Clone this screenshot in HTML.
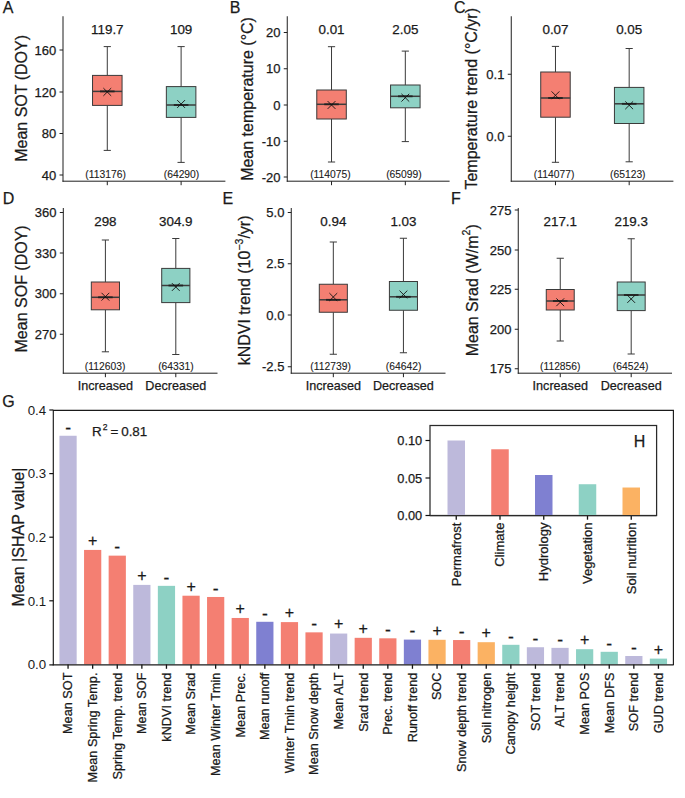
<!DOCTYPE html>
<html><head><meta charset="utf-8"><style>
html,body{margin:0;padding:0;background:#fff;}
svg{display:block;font-family:"Liberation Sans", sans-serif;}
text{stroke:#1a1a1a;stroke-width:0.25px;}
</style></head><body>
<svg width="685" height="798" viewBox="0 0 685 798">
<rect width="685" height="798" fill="#fff"/>
<line x1="63" y1="16.25" x2="63" y2="181.7" stroke="#1f1f1f" stroke-width="1.0"/>
<line x1="62.5" y1="181.2" x2="225.4" y2="181.2" stroke="#1f1f1f" stroke-width="1.0"/>
<line x1="59.5" y1="50" x2="63" y2="50" stroke="#1f1f1f" stroke-width="1.0"/>
<text x="56.2" y="54.6" font-size="13" text-anchor="end" fill="#1a1a1a">160</text>
<line x1="59.5" y1="92" x2="63" y2="92" stroke="#1f1f1f" stroke-width="1.0"/>
<text x="56.2" y="96.6" font-size="13" text-anchor="end" fill="#1a1a1a">120</text>
<line x1="59.5" y1="133.5" x2="63" y2="133.5" stroke="#1f1f1f" stroke-width="1.0"/>
<text x="56.2" y="138.1" font-size="13" text-anchor="end" fill="#1a1a1a">80</text>
<line x1="59.5" y1="175" x2="63" y2="175" stroke="#1f1f1f" stroke-width="1.0"/>
<text x="56.2" y="179.6" font-size="13" text-anchor="end" fill="#1a1a1a">40</text>
<line x1="107.29" y1="181.2" x2="107.29" y2="185.2" stroke="#1f1f1f" stroke-width="1.0"/>
<line x1="107.29" y1="46.6" x2="107.29" y2="75.4" stroke="#3a3a3a" stroke-width="1.0"/>
<line x1="107.29" y1="105.4" x2="107.29" y2="150.4" stroke="#3a3a3a" stroke-width="1.0"/>
<line x1="103.69" y1="46.6" x2="110.89" y2="46.6" stroke="#3a3a3a" stroke-width="1.0"/>
<line x1="103.69" y1="150.4" x2="110.89" y2="150.4" stroke="#3a3a3a" stroke-width="1.0"/>
<rect x="92.53" y="75.4" width="29.53" height="30.00" fill="#F47F72" stroke="#3a3a3a" stroke-width="1"/>
<line x1="92.53" y1="91.4" x2="122.05" y2="91.4" stroke="#3c3c3c" stroke-width="1.5"/>
<line x1="99.99" y1="91.4" x2="114.59" y2="91.4" stroke="#222" stroke-width="1.8"/>
<path d="M103.39,88.10L111.19,95.90M103.39,95.90L111.19,88.10" stroke="#111" stroke-width="0.9" fill="none"/>
<text x="107.29" y="33.9" font-size="13.4" text-anchor="middle" fill="#1a1a1a">119.7</text>
<text x="105.6" y="178" font-size="10.3" text-anchor="middle" fill="#1a1a1a" style="stroke-width:0.1px">(113176)</text>
<line x1="181.11" y1="181.2" x2="181.11" y2="185.2" stroke="#1f1f1f" stroke-width="1.0"/>
<line x1="181.11" y1="46.6" x2="181.11" y2="86.6" stroke="#3a3a3a" stroke-width="1.0"/>
<line x1="181.11" y1="117.4" x2="181.11" y2="162.4" stroke="#3a3a3a" stroke-width="1.0"/>
<line x1="177.51" y1="46.6" x2="184.71" y2="46.6" stroke="#3a3a3a" stroke-width="1.0"/>
<line x1="177.51" y1="162.4" x2="184.71" y2="162.4" stroke="#3a3a3a" stroke-width="1.0"/>
<rect x="166.35" y="86.6" width="29.53" height="30.80" fill="#8DD1C4" stroke="#3a3a3a" stroke-width="1"/>
<line x1="166.35" y1="105" x2="195.87" y2="105" stroke="#3c3c3c" stroke-width="1.5"/>
<line x1="173.81" y1="105" x2="188.41" y2="105" stroke="#222" stroke-width="1.8"/>
<path d="M177.21,100.10L185.01,107.90M177.21,107.90L185.01,100.10" stroke="#111" stroke-width="0.9" fill="none"/>
<text x="181.11" y="33.9" font-size="13.4" text-anchor="middle" fill="#1a1a1a">109</text>
<text x="181.5" y="178" font-size="10.3" text-anchor="middle" fill="#1a1a1a" style="stroke-width:0.1px">(64290)</text>
<text x="26.7" y="98.4" font-size="16" text-anchor="middle" fill="#1a1a1a" transform="rotate(-90 26.7 98.4)">Mean SOT (DOY)</text>
<text x="2.8" y="12.9" font-size="16" text-anchor="start" fill="#1a1a1a">A</text>
<line x1="287.25" y1="16.25" x2="287.25" y2="181.7" stroke="#1f1f1f" stroke-width="1.0"/>
<line x1="286.75" y1="181.2" x2="449.6" y2="181.2" stroke="#1f1f1f" stroke-width="1.0"/>
<line x1="283.75" y1="32.5" x2="287.25" y2="32.5" stroke="#1f1f1f" stroke-width="1.0"/>
<text x="280.45" y="37.1" font-size="13" text-anchor="end" fill="#1a1a1a">20</text>
<line x1="283.75" y1="68.75" x2="287.25" y2="68.75" stroke="#1f1f1f" stroke-width="1.0"/>
<text x="280.45" y="73.35" font-size="13" text-anchor="end" fill="#1a1a1a">10</text>
<line x1="283.75" y1="105" x2="287.25" y2="105" stroke="#1f1f1f" stroke-width="1.0"/>
<text x="280.45" y="109.6" font-size="13" text-anchor="end" fill="#1a1a1a">0</text>
<line x1="283.75" y1="141.25" x2="287.25" y2="141.25" stroke="#1f1f1f" stroke-width="1.0"/>
<text x="280.45" y="145.85" font-size="13" text-anchor="end" fill="#1a1a1a">-10</text>
<line x1="283.75" y1="177" x2="287.25" y2="177" stroke="#1f1f1f" stroke-width="1.0"/>
<text x="280.45" y="181.6" font-size="13" text-anchor="end" fill="#1a1a1a">-20</text>
<line x1="331.53" y1="181.2" x2="331.53" y2="185.2" stroke="#1f1f1f" stroke-width="1.0"/>
<line x1="331.53" y1="46.7" x2="331.53" y2="90" stroke="#3a3a3a" stroke-width="1.0"/>
<line x1="331.53" y1="119" x2="331.53" y2="162" stroke="#3a3a3a" stroke-width="1.0"/>
<line x1="327.93" y1="46.7" x2="335.13" y2="46.7" stroke="#3a3a3a" stroke-width="1.0"/>
<line x1="327.93" y1="162" x2="335.13" y2="162" stroke="#3a3a3a" stroke-width="1.0"/>
<rect x="316.77" y="90" width="29.52" height="29.00" fill="#F47F72" stroke="#3a3a3a" stroke-width="1"/>
<line x1="316.77" y1="104.3" x2="346.29" y2="104.3" stroke="#3c3c3c" stroke-width="1.5"/>
<line x1="324.23" y1="104.3" x2="338.83" y2="104.3" stroke="#222" stroke-width="1.8"/>
<path d="M327.63,101.10L335.43,108.90M327.63,108.90L335.43,101.10" stroke="#111" stroke-width="0.9" fill="none"/>
<text x="331.53" y="33.9" font-size="13.4" text-anchor="middle" fill="#1a1a1a">0.01</text>
<text x="330.4" y="178" font-size="10.3" text-anchor="middle" fill="#1a1a1a" style="stroke-width:0.1px">(114075)</text>
<line x1="405.32" y1="181.2" x2="405.32" y2="185.2" stroke="#1f1f1f" stroke-width="1.0"/>
<line x1="405.32" y1="51.1" x2="405.32" y2="85" stroke="#3a3a3a" stroke-width="1.0"/>
<line x1="405.32" y1="107.8" x2="405.32" y2="141.6" stroke="#3a3a3a" stroke-width="1.0"/>
<line x1="401.72" y1="51.1" x2="408.92" y2="51.1" stroke="#3a3a3a" stroke-width="1.0"/>
<line x1="401.72" y1="141.6" x2="408.92" y2="141.6" stroke="#3a3a3a" stroke-width="1.0"/>
<rect x="390.56" y="85" width="29.52" height="22.80" fill="#8DD1C4" stroke="#3a3a3a" stroke-width="1"/>
<line x1="390.56" y1="96.3" x2="420.08" y2="96.3" stroke="#3c3c3c" stroke-width="1.5"/>
<line x1="398.02" y1="96.3" x2="412.62" y2="96.3" stroke="#222" stroke-width="1.8"/>
<path d="M401.42,93.80L409.22,101.60M401.42,101.60L409.22,93.80" stroke="#111" stroke-width="0.9" fill="none"/>
<text x="405.32" y="33.9" font-size="13.4" text-anchor="middle" fill="#1a1a1a">2.05</text>
<text x="403.9" y="178" font-size="10.3" text-anchor="middle" fill="#1a1a1a" style="stroke-width:0.1px">(65099)</text>
<text x="253" y="98.95" font-size="16" text-anchor="middle" fill="#1a1a1a" transform="rotate(-90 253 98.95)">Mean temperature (°C)</text>
<text x="229.8" y="12.9" font-size="16" text-anchor="start" fill="#1a1a1a">B</text>
<line x1="511.25" y1="16.25" x2="511.25" y2="181.7" stroke="#1f1f1f" stroke-width="1.0"/>
<line x1="510.75" y1="181.2" x2="673.4" y2="181.2" stroke="#1f1f1f" stroke-width="1.0"/>
<line x1="507.75" y1="74.25" x2="511.25" y2="74.25" stroke="#1f1f1f" stroke-width="1.0"/>
<text x="504.45" y="78.85" font-size="13" text-anchor="end" fill="#1a1a1a">0.1</text>
<line x1="507.75" y1="136.25" x2="511.25" y2="136.25" stroke="#1f1f1f" stroke-width="1.0"/>
<text x="504.45" y="140.85" font-size="13" text-anchor="end" fill="#1a1a1a">0.0</text>
<line x1="555.47" y1="181.2" x2="555.47" y2="185.2" stroke="#1f1f1f" stroke-width="1.0"/>
<line x1="555.47" y1="46.4" x2="555.47" y2="72" stroke="#3a3a3a" stroke-width="1.0"/>
<line x1="555.47" y1="117.2" x2="555.47" y2="162.3" stroke="#3a3a3a" stroke-width="1.0"/>
<line x1="551.87" y1="46.4" x2="559.07" y2="46.4" stroke="#3a3a3a" stroke-width="1.0"/>
<line x1="551.87" y1="162.3" x2="559.07" y2="162.3" stroke="#3a3a3a" stroke-width="1.0"/>
<rect x="540.73" y="72" width="29.48" height="45.20" fill="#F47F72" stroke="#3a3a3a" stroke-width="1"/>
<line x1="540.73" y1="98" x2="570.21" y2="98" stroke="#3c3c3c" stroke-width="1.5"/>
<line x1="548.17" y1="98" x2="562.77" y2="98" stroke="#222" stroke-width="1.8"/>
<path d="M551.57,91.40L559.37,99.20M551.57,99.20L559.37,91.40" stroke="#111" stroke-width="0.9" fill="none"/>
<text x="555.47" y="33.9" font-size="13.4" text-anchor="middle" fill="#1a1a1a">0.07</text>
<text x="554.1" y="178" font-size="10.3" text-anchor="middle" fill="#1a1a1a" style="stroke-width:0.1px">(114077)</text>
<line x1="629.18" y1="181.2" x2="629.18" y2="185.2" stroke="#1f1f1f" stroke-width="1.0"/>
<line x1="629.18" y1="48.5" x2="629.18" y2="87.4" stroke="#3a3a3a" stroke-width="1.0"/>
<line x1="629.18" y1="123.5" x2="629.18" y2="161.8" stroke="#3a3a3a" stroke-width="1.0"/>
<line x1="625.58" y1="48.5" x2="632.78" y2="48.5" stroke="#3a3a3a" stroke-width="1.0"/>
<line x1="625.58" y1="161.8" x2="632.78" y2="161.8" stroke="#3a3a3a" stroke-width="1.0"/>
<rect x="614.44" y="87.4" width="29.48" height="36.10" fill="#8DD1C4" stroke="#3a3a3a" stroke-width="1"/>
<line x1="614.44" y1="103.8" x2="643.92" y2="103.8" stroke="#3c3c3c" stroke-width="1.5"/>
<line x1="621.88" y1="103.8" x2="636.48" y2="103.8" stroke="#222" stroke-width="1.8"/>
<path d="M625.28,101.40L633.08,109.20M625.28,109.20L633.08,101.40" stroke="#111" stroke-width="0.9" fill="none"/>
<text x="629.18" y="33.9" font-size="13.4" text-anchor="middle" fill="#1a1a1a">0.05</text>
<text x="627.8" y="178" font-size="10.3" text-anchor="middle" fill="#1a1a1a" style="stroke-width:0.1px">(65123)</text>
<text x="477" y="98.8" font-size="16" text-anchor="middle" fill="#1a1a1a" transform="rotate(-90 477 98.8)">Temperature trend (°C/yr)</text>
<text x="454.1" y="12.9" font-size="16" text-anchor="start" fill="#1a1a1a">C</text>
<line x1="63.3" y1="208" x2="63.3" y2="373.7" stroke="#1f1f1f" stroke-width="1.0"/>
<line x1="62.8" y1="373.2" x2="217.5" y2="373.2" stroke="#1f1f1f" stroke-width="1.0"/>
<line x1="59.8" y1="212.5" x2="63.3" y2="212.5" stroke="#1f1f1f" stroke-width="1.0"/>
<text x="56.5" y="217.1" font-size="13" text-anchor="end" fill="#1a1a1a">360</text>
<line x1="59.8" y1="253" x2="63.3" y2="253" stroke="#1f1f1f" stroke-width="1.0"/>
<text x="56.5" y="257.6" font-size="13" text-anchor="end" fill="#1a1a1a">330</text>
<line x1="59.8" y1="293.75" x2="63.3" y2="293.75" stroke="#1f1f1f" stroke-width="1.0"/>
<text x="56.5" y="298.35" font-size="13" text-anchor="end" fill="#1a1a1a">300</text>
<line x1="59.8" y1="334.25" x2="63.3" y2="334.25" stroke="#1f1f1f" stroke-width="1.0"/>
<text x="56.5" y="338.85" font-size="13" text-anchor="end" fill="#1a1a1a">270</text>
<line x1="105.4" y1="373.2" x2="105.4" y2="377.2" stroke="#1f1f1f" stroke-width="1.0"/>
<line x1="105.4" y1="240" x2="105.4" y2="282" stroke="#3a3a3a" stroke-width="1.0"/>
<line x1="105.4" y1="309.8" x2="105.4" y2="351.8" stroke="#3a3a3a" stroke-width="1.0"/>
<line x1="101.8" y1="240" x2="109" y2="240" stroke="#3a3a3a" stroke-width="1.0"/>
<line x1="101.8" y1="351.8" x2="109" y2="351.8" stroke="#3a3a3a" stroke-width="1.0"/>
<rect x="91.31" y="282" width="28.18" height="27.80" fill="#F47F72" stroke="#3a3a3a" stroke-width="1"/>
<line x1="91.31" y1="297.3" x2="119.49" y2="297.3" stroke="#3c3c3c" stroke-width="1.5"/>
<line x1="98.1" y1="297.3" x2="112.7" y2="297.3" stroke="#222" stroke-width="1.8"/>
<path d="M101.50,292.80L109.30,300.60M101.50,300.60L109.30,292.80" stroke="#111" stroke-width="0.9" fill="none"/>
<text x="105.4" y="226.2" font-size="13.4" text-anchor="middle" fill="#1a1a1a">298</text>
<text x="105.1" y="370.2" font-size="10.3" text-anchor="middle" fill="#1a1a1a" style="stroke-width:0.1px">(112603)</text>
<text x="105.4" y="389.9" font-size="12.6" text-anchor="middle" fill="#1a1a1a">Increased</text>
<line x1="175.8" y1="373.2" x2="175.8" y2="377.2" stroke="#1f1f1f" stroke-width="1.0"/>
<line x1="175.8" y1="238.5" x2="175.8" y2="268.4" stroke="#3a3a3a" stroke-width="1.0"/>
<line x1="175.8" y1="302.6" x2="175.8" y2="354.5" stroke="#3a3a3a" stroke-width="1.0"/>
<line x1="172.2" y1="238.5" x2="179.4" y2="238.5" stroke="#3a3a3a" stroke-width="1.0"/>
<line x1="172.2" y1="354.5" x2="179.4" y2="354.5" stroke="#3a3a3a" stroke-width="1.0"/>
<rect x="161.71" y="268.4" width="28.18" height="34.20" fill="#8DD1C4" stroke="#3a3a3a" stroke-width="1"/>
<line x1="161.71" y1="285.5" x2="189.89" y2="285.5" stroke="#3c3c3c" stroke-width="1.5"/>
<line x1="168.5" y1="285.5" x2="183.1" y2="285.5" stroke="#222" stroke-width="1.8"/>
<path d="M171.90,283.10L179.70,290.90M171.90,290.90L179.70,283.10" stroke="#111" stroke-width="0.9" fill="none"/>
<text x="175.8" y="226.2" font-size="13.4" text-anchor="middle" fill="#1a1a1a">304.9</text>
<text x="175.9" y="370.2" font-size="10.3" text-anchor="middle" fill="#1a1a1a" style="stroke-width:0.1px">(64331)</text>
<text x="175.8" y="389.9" font-size="12.6" text-anchor="middle" fill="#1a1a1a">Decreased</text>
<text x="26.7" y="288.9" font-size="16" text-anchor="middle" fill="#1a1a1a" transform="rotate(-90 26.7 288.9)">Mean SOF (DOY)</text>
<text x="2.7" y="204.3" font-size="16" text-anchor="start" fill="#1a1a1a">D</text>
<line x1="291.25" y1="208" x2="291.25" y2="373.7" stroke="#1f1f1f" stroke-width="1.0"/>
<line x1="290.75" y1="373.2" x2="445.5" y2="373.2" stroke="#1f1f1f" stroke-width="1.0"/>
<line x1="287.75" y1="212.5" x2="291.25" y2="212.5" stroke="#1f1f1f" stroke-width="1.0"/>
<text x="284.45" y="217.1" font-size="13" text-anchor="end" fill="#1a1a1a">5.0</text>
<line x1="287.75" y1="263.75" x2="291.25" y2="263.75" stroke="#1f1f1f" stroke-width="1.0"/>
<text x="284.45" y="268.35" font-size="13" text-anchor="end" fill="#1a1a1a">2.5</text>
<line x1="287.75" y1="315" x2="291.25" y2="315" stroke="#1f1f1f" stroke-width="1.0"/>
<text x="284.45" y="319.6" font-size="13" text-anchor="end" fill="#1a1a1a">0.0</text>
<line x1="287.75" y1="366.75" x2="291.25" y2="366.75" stroke="#1f1f1f" stroke-width="1.0"/>
<text x="284.45" y="371.35" font-size="13" text-anchor="end" fill="#1a1a1a">-2.5</text>
<line x1="333.32" y1="373.2" x2="333.32" y2="377.2" stroke="#1f1f1f" stroke-width="1.0"/>
<line x1="333.32" y1="242" x2="333.32" y2="284.25" stroke="#3a3a3a" stroke-width="1.0"/>
<line x1="333.32" y1="312.25" x2="333.32" y2="354.25" stroke="#3a3a3a" stroke-width="1.0"/>
<line x1="329.72" y1="242" x2="336.92" y2="242" stroke="#3a3a3a" stroke-width="1.0"/>
<line x1="329.72" y1="354.25" x2="336.92" y2="354.25" stroke="#3a3a3a" stroke-width="1.0"/>
<rect x="319.30" y="284.25" width="28.05" height="28.00" fill="#F47F72" stroke="#3a3a3a" stroke-width="1"/>
<line x1="319.3" y1="299.8" x2="347.34" y2="299.8" stroke="#3c3c3c" stroke-width="1.5"/>
<line x1="326.02" y1="299.8" x2="340.62" y2="299.8" stroke="#222" stroke-width="1.8"/>
<path d="M329.42,293.10L337.22,300.90M329.42,300.90L337.22,293.10" stroke="#111" stroke-width="0.9" fill="none"/>
<text x="333.32" y="226.2" font-size="13.4" text-anchor="middle" fill="#1a1a1a">0.94</text>
<text x="330.6" y="370.2" font-size="10.3" text-anchor="middle" fill="#1a1a1a" style="stroke-width:0.1px">(112739)</text>
<text x="333.32" y="389.9" font-size="12.6" text-anchor="middle" fill="#1a1a1a">Increased</text>
<line x1="403.43" y1="373.2" x2="403.43" y2="377.2" stroke="#1f1f1f" stroke-width="1.0"/>
<line x1="403.43" y1="238.25" x2="403.43" y2="281.5" stroke="#3a3a3a" stroke-width="1.0"/>
<line x1="403.43" y1="310.25" x2="403.43" y2="352.75" stroke="#3a3a3a" stroke-width="1.0"/>
<line x1="399.83" y1="238.25" x2="407.03" y2="238.25" stroke="#3a3a3a" stroke-width="1.0"/>
<line x1="399.83" y1="352.75" x2="407.03" y2="352.75" stroke="#3a3a3a" stroke-width="1.0"/>
<rect x="389.41" y="281.5" width="28.05" height="28.75" fill="#8DD1C4" stroke="#3a3a3a" stroke-width="1"/>
<line x1="389.41" y1="296.8" x2="417.45" y2="296.8" stroke="#3c3c3c" stroke-width="1.5"/>
<line x1="396.13" y1="296.8" x2="410.73" y2="296.8" stroke="#222" stroke-width="1.8"/>
<path d="M399.53,290.60L407.33,298.40M399.53,298.40L407.33,290.60" stroke="#111" stroke-width="0.9" fill="none"/>
<text x="403.43" y="226.2" font-size="13.4" text-anchor="middle" fill="#1a1a1a">1.03</text>
<text x="403.6" y="370.2" font-size="10.3" text-anchor="middle" fill="#1a1a1a" style="stroke-width:0.1px">(64642)</text>
<text x="403.43" y="389.9" font-size="12.6" text-anchor="middle" fill="#1a1a1a">Decreased</text>
<text x="250" y="290.4" font-size="16" text-anchor="middle" fill="#1a1a1a" transform="rotate(-90 250 290.4)">kNDVI trend (10<tspan dy="-6.5" font-size="10.5">−3</tspan><tspan dy="6.5">/yr)</tspan></text>
<text x="222.5" y="204.3" font-size="16" text-anchor="start" fill="#1a1a1a">E</text>
<line x1="518.25" y1="208" x2="518.25" y2="373.7" stroke="#1f1f1f" stroke-width="1.0"/>
<line x1="517.75" y1="373.2" x2="672" y2="373.2" stroke="#1f1f1f" stroke-width="1.0"/>
<line x1="514.75" y1="210" x2="518.25" y2="210" stroke="#1f1f1f" stroke-width="1.0"/>
<text x="511.45" y="214.6" font-size="13" text-anchor="end" fill="#1a1a1a">275</text>
<line x1="514.75" y1="250" x2="518.25" y2="250" stroke="#1f1f1f" stroke-width="1.0"/>
<text x="511.45" y="254.6" font-size="13" text-anchor="end" fill="#1a1a1a">250</text>
<line x1="514.75" y1="289.25" x2="518.25" y2="289.25" stroke="#1f1f1f" stroke-width="1.0"/>
<text x="511.45" y="293.85" font-size="13" text-anchor="end" fill="#1a1a1a">225</text>
<line x1="514.75" y1="329.25" x2="518.25" y2="329.25" stroke="#1f1f1f" stroke-width="1.0"/>
<text x="511.45" y="333.85" font-size="13" text-anchor="end" fill="#1a1a1a">200</text>
<line x1="514.75" y1="368.75" x2="518.25" y2="368.75" stroke="#1f1f1f" stroke-width="1.0"/>
<text x="511.45" y="373.35" font-size="13" text-anchor="end" fill="#1a1a1a">175</text>
<line x1="560.25" y1="373.2" x2="560.25" y2="377.2" stroke="#1f1f1f" stroke-width="1.0"/>
<line x1="560.25" y1="258.25" x2="560.25" y2="289.5" stroke="#3a3a3a" stroke-width="1.0"/>
<line x1="560.25" y1="310" x2="560.25" y2="341" stroke="#3a3a3a" stroke-width="1.0"/>
<line x1="556.65" y1="258.25" x2="563.85" y2="258.25" stroke="#3a3a3a" stroke-width="1.0"/>
<line x1="556.65" y1="341" x2="563.85" y2="341" stroke="#3a3a3a" stroke-width="1.0"/>
<rect x="546.27" y="289.5" width="27.95" height="20.50" fill="#F47F72" stroke="#3a3a3a" stroke-width="1"/>
<line x1="546.27" y1="301" x2="574.23" y2="301" stroke="#3c3c3c" stroke-width="1.5"/>
<line x1="552.95" y1="301" x2="567.55" y2="301" stroke="#222" stroke-width="1.8"/>
<path d="M556.35,298.35L564.15,306.15M556.35,306.15L564.15,298.35" stroke="#111" stroke-width="0.9" fill="none"/>
<text x="560.25" y="226.2" font-size="13.4" text-anchor="middle" fill="#1a1a1a">217.1</text>
<text x="560.25" y="370.2" font-size="10.3" text-anchor="middle" fill="#1a1a1a" style="stroke-width:0.1px">(112856)</text>
<text x="560.25" y="389.9" font-size="12.6" text-anchor="middle" fill="#1a1a1a">Increased</text>
<line x1="631.2" y1="373.2" x2="631.2" y2="377.2" stroke="#1f1f1f" stroke-width="1.0"/>
<line x1="631.2" y1="238.75" x2="631.2" y2="282" stroke="#3a3a3a" stroke-width="1.0"/>
<line x1="631.2" y1="310.6" x2="631.2" y2="354" stroke="#3a3a3a" stroke-width="1.0"/>
<line x1="627.6" y1="238.75" x2="634.8" y2="238.75" stroke="#3a3a3a" stroke-width="1.0"/>
<line x1="627.6" y1="354" x2="634.8" y2="354" stroke="#3a3a3a" stroke-width="1.0"/>
<rect x="617.22" y="282" width="27.95" height="28.60" fill="#8DD1C4" stroke="#3a3a3a" stroke-width="1"/>
<line x1="617.22" y1="295" x2="645.18" y2="295" stroke="#3c3c3c" stroke-width="1.5"/>
<line x1="623.9" y1="295" x2="638.5" y2="295" stroke="#222" stroke-width="1.8"/>
<path d="M627.30,295.10L635.10,302.90M627.30,302.90L635.10,295.10" stroke="#111" stroke-width="0.9" fill="none"/>
<text x="631.2" y="226.2" font-size="13.4" text-anchor="middle" fill="#1a1a1a">219.3</text>
<text x="630.6" y="370.2" font-size="10.3" text-anchor="middle" fill="#1a1a1a" style="stroke-width:0.1px">(64524)</text>
<text x="631.2" y="389.9" font-size="12.6" text-anchor="middle" fill="#1a1a1a">Decreased</text>
<text x="478" y="290.3" font-size="16" text-anchor="middle" fill="#1a1a1a" transform="rotate(-90 478 290.3)">Mean Srad (W/m<tspan dy="-7.5" font-size="10.5">2</tspan><tspan dy="7.5">)</tspan></text>
<text x="451" y="204.3" font-size="16" text-anchor="start" fill="#1a1a1a">F</text>
<rect x="59.45" y="435.76" width="17.22" height="228.64" fill="#BDB9DB"/>
<text x="68.06" y="433.56" font-size="17.5" text-anchor="middle" fill="#1a1a1a">-</text>
<line x1="68.06" y1="664.4" x2="68.06" y2="668.8" stroke="#111" stroke-width="1.3"/>
<text x="72.46" y="672.6" font-size="12.7" text-anchor="end" fill="#1a1a1a" transform="rotate(-90 72.46 672.6)">Mean SOT</text>
<rect x="84.05" y="549.92" width="17.22" height="114.48" fill="#F47F72"/>
<text x="92.66" y="545.82" font-size="16" text-anchor="middle" fill="#1a1a1a">+</text>
<line x1="92.66" y1="664.4" x2="92.66" y2="668.8" stroke="#111" stroke-width="1.3"/>
<text x="97.06" y="672.6" font-size="12.7" text-anchor="end" fill="#1a1a1a" transform="rotate(-90 97.06 672.6)">Mean Spring Temp.</text>
<rect x="108.65" y="555.64" width="17.22" height="108.76" fill="#F47F72"/>
<text x="117.26" y="553.44" font-size="17.5" text-anchor="middle" fill="#1a1a1a">-</text>
<line x1="117.26" y1="664.4" x2="117.26" y2="668.8" stroke="#111" stroke-width="1.3"/>
<text x="121.66" y="672.6" font-size="12.7" text-anchor="end" fill="#1a1a1a" transform="rotate(-90 121.66 672.6)">Spring Temp. trend</text>
<rect x="133.25" y="584.90" width="17.22" height="79.50" fill="#BDB9DB"/>
<text x="141.86" y="580.8" font-size="16" text-anchor="middle" fill="#1a1a1a">+</text>
<line x1="141.86" y1="664.4" x2="141.86" y2="668.8" stroke="#111" stroke-width="1.3"/>
<text x="146.26" y="672.6" font-size="12.7" text-anchor="end" fill="#1a1a1a" transform="rotate(-90 146.26 672.6)">Mean SOF</text>
<rect x="157.85" y="585.85" width="17.22" height="78.55" fill="#8DD1C4"/>
<text x="166.46" y="583.65" font-size="17.5" text-anchor="middle" fill="#1a1a1a">-</text>
<line x1="166.46" y1="664.4" x2="166.46" y2="668.8" stroke="#111" stroke-width="1.3"/>
<text x="170.86" y="672.6" font-size="12.7" text-anchor="end" fill="#1a1a1a" transform="rotate(-90 170.86 672.6)">kNDVI trend</text>
<rect x="182.45" y="595.71" width="17.22" height="68.69" fill="#F47F72"/>
<text x="191.06" y="591.61" font-size="16" text-anchor="middle" fill="#1a1a1a">+</text>
<line x1="191.06" y1="664.4" x2="191.06" y2="668.8" stroke="#111" stroke-width="1.3"/>
<text x="195.46" y="672.6" font-size="12.7" text-anchor="end" fill="#1a1a1a" transform="rotate(-90 195.46 672.6)">Mean Srad</text>
<rect x="207.05" y="596.98" width="17.22" height="67.42" fill="#F47F72"/>
<text x="215.65" y="594.78" font-size="17.5" text-anchor="middle" fill="#1a1a1a">-</text>
<line x1="215.65" y1="664.4" x2="215.65" y2="668.8" stroke="#111" stroke-width="1.3"/>
<text x="220.05" y="672.6" font-size="12.7" text-anchor="end" fill="#1a1a1a" transform="rotate(-90 220.05 672.6)">Mean Winter Tmin</text>
<rect x="231.64" y="617.97" width="17.22" height="46.43" fill="#F47F72"/>
<text x="240.25" y="613.87" font-size="16" text-anchor="middle" fill="#1a1a1a">+</text>
<line x1="240.25" y1="664.4" x2="240.25" y2="668.8" stroke="#111" stroke-width="1.3"/>
<text x="244.65" y="672.6" font-size="12.7" text-anchor="end" fill="#1a1a1a" transform="rotate(-90 244.65 672.6)">Mean Prec.</text>
<rect x="256.24" y="621.79" width="17.22" height="42.61" fill="#7F80D1"/>
<text x="264.85" y="619.59" font-size="17.5" text-anchor="middle" fill="#1a1a1a">-</text>
<line x1="264.85" y1="664.4" x2="264.85" y2="668.8" stroke="#111" stroke-width="1.3"/>
<text x="269.25" y="672.6" font-size="12.7" text-anchor="end" fill="#1a1a1a" transform="rotate(-90 269.25 672.6)">Mean runoff</text>
<rect x="280.84" y="622.11" width="17.22" height="42.29" fill="#F47F72"/>
<text x="289.45" y="618.01" font-size="16" text-anchor="middle" fill="#1a1a1a">+</text>
<line x1="289.45" y1="664.4" x2="289.45" y2="668.8" stroke="#111" stroke-width="1.3"/>
<text x="293.85" y="672.6" font-size="12.7" text-anchor="end" fill="#1a1a1a" transform="rotate(-90 293.85 672.6)">Winter Tmin trend</text>
<rect x="305.44" y="632.35" width="17.22" height="32.05" fill="#F47F72"/>
<text x="314.05" y="630.15" font-size="17.5" text-anchor="middle" fill="#1a1a1a">-</text>
<line x1="314.05" y1="664.4" x2="314.05" y2="668.8" stroke="#111" stroke-width="1.3"/>
<text x="318.45" y="672.6" font-size="12.7" text-anchor="end" fill="#1a1a1a" transform="rotate(-90 318.45 672.6)">Mean Snow depth</text>
<rect x="330.04" y="633.55" width="17.22" height="30.85" fill="#BDB9DB"/>
<text x="338.65" y="629.45" font-size="16" text-anchor="middle" fill="#1a1a1a">+</text>
<line x1="338.65" y1="664.4" x2="338.65" y2="668.8" stroke="#111" stroke-width="1.3"/>
<text x="343.05" y="672.6" font-size="12.7" text-anchor="end" fill="#1a1a1a" transform="rotate(-90 343.05 672.6)">Mean ALT</text>
<rect x="354.64" y="637.82" width="17.22" height="26.58" fill="#F47F72"/>
<text x="363.25" y="633.72" font-size="16" text-anchor="middle" fill="#1a1a1a">+</text>
<line x1="363.25" y1="664.4" x2="363.25" y2="668.8" stroke="#111" stroke-width="1.3"/>
<text x="367.65" y="672.6" font-size="12.7" text-anchor="end" fill="#1a1a1a" transform="rotate(-90 367.65 672.6)">Srad trend</text>
<rect x="379.24" y="638.32" width="17.22" height="26.08" fill="#F47F72"/>
<text x="387.85" y="636.12" font-size="17.5" text-anchor="middle" fill="#1a1a1a">-</text>
<line x1="387.85" y1="664.4" x2="387.85" y2="668.8" stroke="#111" stroke-width="1.3"/>
<text x="392.25" y="672.6" font-size="12.7" text-anchor="end" fill="#1a1a1a" transform="rotate(-90 392.25 672.6)">Prec. trend</text>
<rect x="403.84" y="639.60" width="17.22" height="24.80" fill="#7F80D1"/>
<text x="412.45" y="637.4" font-size="17.5" text-anchor="middle" fill="#1a1a1a">-</text>
<line x1="412.45" y1="664.4" x2="412.45" y2="668.8" stroke="#111" stroke-width="1.3"/>
<text x="416.85" y="672.6" font-size="12.7" text-anchor="end" fill="#1a1a1a" transform="rotate(-90 416.85 672.6)">Runoff trend</text>
<rect x="428.44" y="639.79" width="17.22" height="24.61" fill="#FBB263"/>
<text x="437.05" y="635.69" font-size="16" text-anchor="middle" fill="#1a1a1a">+</text>
<line x1="437.05" y1="664.4" x2="437.05" y2="668.8" stroke="#111" stroke-width="1.3"/>
<text x="441.45" y="672.6" font-size="12.7" text-anchor="end" fill="#1a1a1a" transform="rotate(-90 441.45 672.6)">SOC</text>
<rect x="453.04" y="640.04" width="17.22" height="24.36" fill="#F47F72"/>
<text x="461.65" y="637.84" font-size="17.5" text-anchor="middle" fill="#1a1a1a">-</text>
<line x1="461.65" y1="664.4" x2="461.65" y2="668.8" stroke="#111" stroke-width="1.3"/>
<text x="466.05" y="672.6" font-size="12.7" text-anchor="end" fill="#1a1a1a" transform="rotate(-90 466.05 672.6)">Snow depth trend</text>
<rect x="477.64" y="642.20" width="17.22" height="22.20" fill="#FBB263"/>
<text x="486.25" y="638.1" font-size="16" text-anchor="middle" fill="#1a1a1a">+</text>
<line x1="486.25" y1="664.4" x2="486.25" y2="668.8" stroke="#111" stroke-width="1.3"/>
<text x="490.65" y="672.6" font-size="12.7" text-anchor="end" fill="#1a1a1a" transform="rotate(-90 490.65 672.6)">Soil nitrogen</text>
<rect x="502.24" y="644.81" width="17.22" height="19.59" fill="#8DD1C4"/>
<text x="510.85" y="642.61" font-size="17.5" text-anchor="middle" fill="#1a1a1a">-</text>
<line x1="510.85" y1="664.4" x2="510.85" y2="668.8" stroke="#111" stroke-width="1.3"/>
<text x="515.25" y="672.6" font-size="12.7" text-anchor="end" fill="#1a1a1a" transform="rotate(-90 515.25 672.6)">Canopy height</text>
<rect x="526.83" y="647.23" width="17.22" height="17.17" fill="#BDB9DB"/>
<text x="535.44" y="645.03" font-size="17.5" text-anchor="middle" fill="#1a1a1a">-</text>
<line x1="535.44" y1="664.4" x2="535.44" y2="668.8" stroke="#111" stroke-width="1.3"/>
<text x="539.84" y="672.6" font-size="12.7" text-anchor="end" fill="#1a1a1a" transform="rotate(-90 539.84 672.6)">SOT trend</text>
<rect x="551.43" y="647.86" width="17.22" height="16.54" fill="#BDB9DB"/>
<text x="560.04" y="645.66" font-size="17.5" text-anchor="middle" fill="#1a1a1a">-</text>
<line x1="560.04" y1="664.4" x2="560.04" y2="668.8" stroke="#111" stroke-width="1.3"/>
<text x="564.44" y="672.6" font-size="12.7" text-anchor="end" fill="#1a1a1a" transform="rotate(-90 564.44 672.6)">ALT trend</text>
<rect x="576.03" y="649.20" width="17.22" height="15.20" fill="#8DD1C4"/>
<text x="584.64" y="645.1" font-size="16" text-anchor="middle" fill="#1a1a1a">+</text>
<line x1="584.64" y1="664.4" x2="584.64" y2="668.8" stroke="#111" stroke-width="1.3"/>
<text x="589.04" y="672.6" font-size="12.7" text-anchor="end" fill="#1a1a1a" transform="rotate(-90 589.04 672.6)">Mean POS</text>
<rect x="600.63" y="651.81" width="17.22" height="12.59" fill="#8DD1C4"/>
<text x="609.24" y="649.61" font-size="17.5" text-anchor="middle" fill="#1a1a1a">-</text>
<line x1="609.24" y1="664.4" x2="609.24" y2="668.8" stroke="#111" stroke-width="1.3"/>
<text x="613.64" y="672.6" font-size="12.7" text-anchor="end" fill="#1a1a1a" transform="rotate(-90 613.64 672.6)">Mean DFS</text>
<rect x="625.23" y="656.00" width="17.22" height="8.40" fill="#BDB9DB"/>
<text x="633.84" y="653.8" font-size="17.5" text-anchor="middle" fill="#1a1a1a">-</text>
<line x1="633.84" y1="664.4" x2="633.84" y2="668.8" stroke="#111" stroke-width="1.3"/>
<text x="638.24" y="672.6" font-size="12.7" text-anchor="end" fill="#1a1a1a" transform="rotate(-90 638.24 672.6)">SOF trend</text>
<rect x="649.83" y="658.61" width="17.22" height="5.79" fill="#8DD1C4"/>
<text x="658.44" y="654.51" font-size="16" text-anchor="middle" fill="#1a1a1a">+</text>
<line x1="658.44" y1="664.4" x2="658.44" y2="668.8" stroke="#111" stroke-width="1.3"/>
<text x="662.84" y="672.6" font-size="12.7" text-anchor="end" fill="#1a1a1a" transform="rotate(-90 662.84 672.6)">GUD trend</text>
<path d="M53.3,665.3V410.3H673.4000000000001V664.9" fill="none" stroke="#1a1a1a" stroke-width="1.15"/>
<line x1="52.8" y1="664.9" x2="673.7" y2="664.9" stroke="#1a1a1a" stroke-width="1.2"/>
<line x1="49.3" y1="664.9" x2="53.3" y2="664.9" stroke="#111" stroke-width="1.2"/>
<text x="46.2" y="669.2" font-size="13.3" text-anchor="end" fill="#1a1a1a" style="stroke-width:0">0.0</text>
<line x1="49.3" y1="600.8" x2="53.3" y2="600.8" stroke="#111" stroke-width="1.2"/>
<text x="46.2" y="605.6" font-size="13.3" text-anchor="end" fill="#1a1a1a" style="stroke-width:0">0.1</text>
<line x1="49.3" y1="537.2" x2="53.3" y2="537.2" stroke="#111" stroke-width="1.2"/>
<text x="46.2" y="542.0" font-size="13.3" text-anchor="end" fill="#1a1a1a" style="stroke-width:0">0.2</text>
<line x1="49.3" y1="473.6" x2="53.3" y2="473.6" stroke="#111" stroke-width="1.2"/>
<text x="46.2" y="478.4" font-size="13.3" text-anchor="end" fill="#1a1a1a" style="stroke-width:0">0.3</text>
<line x1="49.3" y1="410" x2="53.3" y2="410" stroke="#111" stroke-width="1.2"/>
<text x="46.2" y="414.8" font-size="13.3" text-anchor="end" fill="#1a1a1a" style="stroke-width:0">0.4</text>
<text x="24" y="537" font-size="16" text-anchor="middle" fill="#1a1a1a" transform="rotate(-90 24 537)">Mean |SHAP value|</text>
<text x="2.3" y="407.1" font-size="16" text-anchor="start" fill="#1a1a1a">G</text>
<text x="92.1" y="436.2" font-size="13.4" text-anchor="start" fill="#1a1a1a">R</text>
<text x="102.8" y="429.8" font-size="8.6" text-anchor="start" fill="#1a1a1a">2</text>
<text x="110.4" y="436.2" font-size="13.4" text-anchor="start" fill="#1a1a1a">=</text>
<text x="121.2" y="436.2" font-size="13.4" text-anchor="start" fill="#1a1a1a">0.81</text>
<rect x="430" y="425.5" width="226.60000000000002" height="90.0" fill="#fff" stroke="#2a2a2a" stroke-width="1.25"/>
<rect x="447.50" y="440.50" width="17.50" height="75.00" fill="#BDB9DB"/>
<line x1="456.25" y1="515.5" x2="456.25" y2="519.7" stroke="#111" stroke-width="1.3"/>
<text x="460.55" y="522.6" font-size="13" text-anchor="end" fill="#1a1a1a" transform="rotate(-90 460.55 522.6)">Permafrost</text>
<rect x="491.25" y="449.27" width="17.50" height="66.23" fill="#F47F72"/>
<line x1="500" y1="515.5" x2="500" y2="519.7" stroke="#111" stroke-width="1.3"/>
<text x="504.3" y="522.6" font-size="13" text-anchor="end" fill="#1a1a1a" transform="rotate(-90 504.3 522.6)">Climate</text>
<rect x="535.00" y="475.00" width="17.50" height="40.50" fill="#7F80D1"/>
<line x1="543.75" y1="515.5" x2="543.75" y2="519.7" stroke="#111" stroke-width="1.3"/>
<text x="548.05" y="522.6" font-size="13" text-anchor="end" fill="#1a1a1a" transform="rotate(-90 548.05 522.6)">Hydrology</text>
<rect x="578.75" y="484.23" width="17.50" height="31.27" fill="#8DD1C4"/>
<line x1="587.5" y1="515.5" x2="587.5" y2="519.7" stroke="#111" stroke-width="1.3"/>
<text x="591.8" y="522.6" font-size="13" text-anchor="end" fill="#1a1a1a" transform="rotate(-90 591.8 522.6)">Vegetation</text>
<rect x="622.50" y="487.52" width="17.50" height="27.98" fill="#FBB263"/>
<line x1="631.25" y1="515.5" x2="631.25" y2="519.7" stroke="#111" stroke-width="1.3"/>
<text x="635.55" y="522.6" font-size="13" text-anchor="end" fill="#1a1a1a" transform="rotate(-90 635.55 522.6)">Soil nutrition</text>
<line x1="430" y1="515.5" x2="656.6" y2="515.5" stroke="#2a2a2a" stroke-width="1.25"/>
<line x1="425.5" y1="515.5" x2="430" y2="515.5" stroke="#111" stroke-width="1.2"/>
<text x="422.2" y="520.0" font-size="12.8" text-anchor="end" fill="#1a1a1a">0.00</text>
<line x1="425.5" y1="478" x2="430" y2="478" stroke="#111" stroke-width="1.2"/>
<text x="422.2" y="482.5" font-size="12.8" text-anchor="end" fill="#1a1a1a">0.05</text>
<line x1="425.5" y1="440.5" x2="430" y2="440.5" stroke="#111" stroke-width="1.2"/>
<text x="422.2" y="445.0" font-size="12.8" text-anchor="end" fill="#1a1a1a">0.10</text>
<text x="633.8" y="447" font-size="16" text-anchor="start" fill="#1a1a1a">H</text>
</svg>
</body></html>
